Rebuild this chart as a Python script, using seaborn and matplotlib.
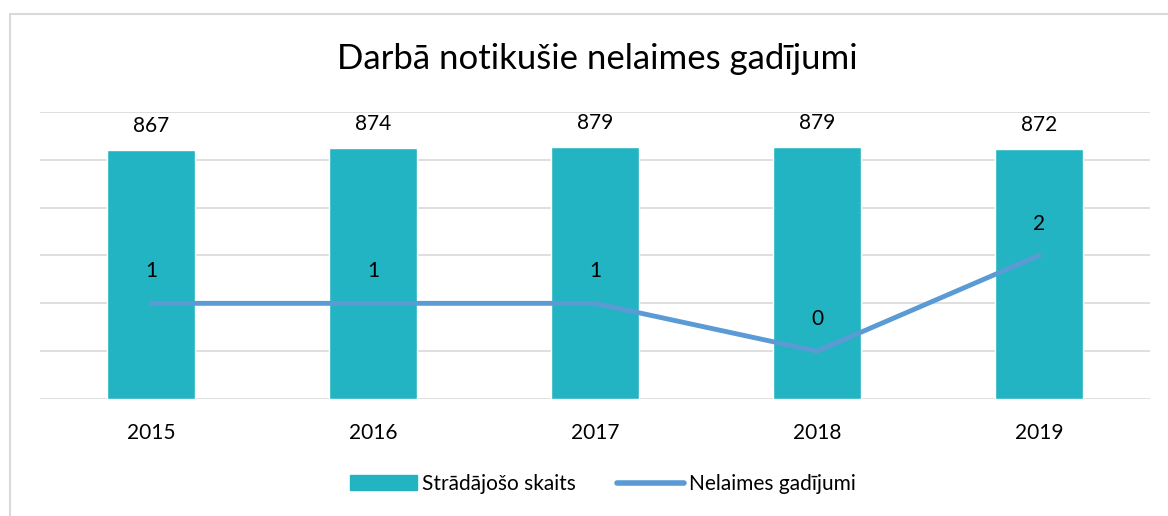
import pandas as pd
import matplotlib.pyplot as plt
import seaborn as sns
from matplotlib.patches import Rectangle
from matplotlib.lines import Line2D

# Dati
years = ['2015', '2016', '2017', '2018', '2019']
workers = [867, 874, 879, 879, 872]
accidents = [1, 1, 1, 0, 2]

df = pd.DataFrame({'year': years, 'workers': workers, 'accidents': accidents})
df['pos'] = range(len(df))

sns.set_style('white')
plt.rcParams['font.family'] = ['Lato', 'DejaVu Sans']
plt.rcParams['text.color'] = 'black'
plt.rcParams['xtick.color'] = 'black'

bar_color = '#22B4C2'
line_color = '#5B9BD5'

fig = plt.figure(figsize=(11.68, 5.16), dpi=100)
fig.patches.append(Rectangle((10 / 1168, -0.1), 1.2, 1 - 14 / 516 + 0.1,
                             transform=fig.transFigure, fill=False,
                             edgecolor='#D9D9D9', linewidth=1.5))

ax = fig.add_axes([40 / 1168, 1 - 399 / 516, 1110 / 1168, 287 / 516])
sns.barplot(data=df, x='year', y='workers', color=bar_color, width=0.4,
            saturation=1, ax=ax)
ax.set_ylim(0, 1000)
ax.set_xlim(-0.5, 4.5)

ax2 = ax.twinx()
sns.lineplot(data=df, x='pos', y='accidents', color=line_color, linewidth=3.5,
             ax=ax2)
ax2.set_ylim(-1, 5)
ax.set_zorder(0)
ax2.set_zorder(1)
ax2.patch.set_visible(False)

# rezga liniijas aiz stabiem
for v in range(-1, 6):
    ax.axhline((v + 1) / 6 * 1000, color='#D9D9D9', linewidth=1.2, zorder=0)

for a in (ax, ax2):
    for s in a.spines.values():
        s.set_visible(False)
    a.set_ylabel('')
    a.set_xlabel('')
ax.set_yticks([])
ax2.set_yticks([])
ax.tick_params(axis='x', length=0, labelsize=15, pad=17)
ax2.tick_params(axis='x', length=0, labelbottom=False)

for i, v in enumerate(workers):
    ax.annotate(str(v), (i, v), xytext=(0, 10), textcoords='offset points',
                ha='center', va='bottom', fontsize=15)
for i, v in enumerate(accidents):
    ax2.annotate(str(v), (i, v), xytext=(0, 23), textcoords='offset points',
                 ha='center', va='center', fontsize=15)

fig.text(597 / 1168, 1 - 59 / 516, 'Darbā notikušie nelaimes gadījumi',
         ha='center', va='center', fontsize=25)

handles = [Rectangle((0, 0), 1, 1, color=bar_color),
           Line2D([0], [0], color=line_color, linewidth=4, solid_capstyle='round')]
fig.legend(handles, ['Strādājošo skaits', 'Nelaimes gadījumi'],
           loc='center', bbox_to_anchor=(603 / 1168, 1 - 484 / 516), ncol=2,
           frameon=False, fontsize=15, handlelength=3.2, handletextpad=0.25,
           columnspacing=2.0)

plt.savefig('out.png', dpi=100)
